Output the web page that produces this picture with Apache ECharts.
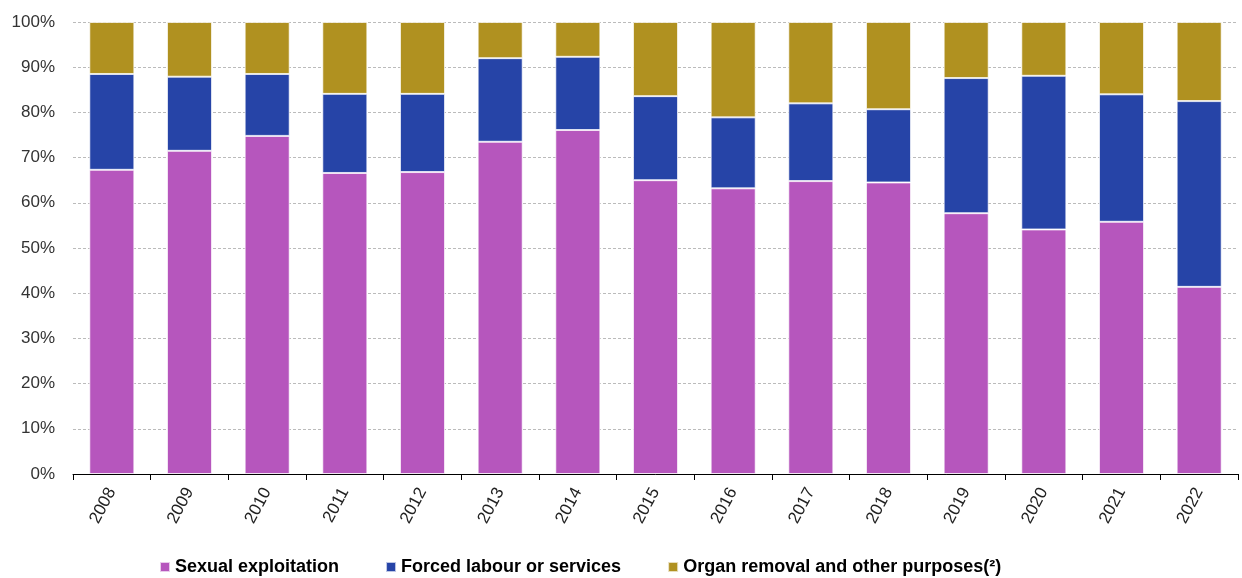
<!DOCTYPE html>
<html>
<head>
<meta charset="utf-8">
<script src="https://cdn.jsdelivr.net/npm/echarts@6/dist/echarts.min.js"></script>
<style>html,body{margin:0;padding:0;background:#fff}#c{width:1242px;height:578px}</style>
</head>
<body>
<div id="c"></div>
<script>
var years = ['2008','2009','2010','2011','2012','2013','2014','2015','2016','2017','2018','2019','2020','2021','2022'];
var sexualExploitation = [67.3, 71.5, 74.8, 66.6, 66.8, 73.5, 76.1, 65.0, 63.2, 64.8, 64.5, 57.7, 54.1, 55.8, 41.4];
var forcedLabour = [21.2, 16.4, 13.7, 17.5, 17.3, 18.5, 16.2, 18.6, 15.7, 17.2, 16.2, 29.9, 34.0, 28.2, 41.1];
var organRemoval = [11.5, 12.1, 11.5, 15.9, 15.9, 8.0, 7.7, 16.4, 21.1, 18.0, 19.3, 12.4, 11.9, 16.0, 17.5];
var seriesNames = ['Sexual exploitation', 'Forced labour or services', 'Organ removal and other purposes(²)'];
var colors = ['#B656BD', '#2644A7', '#B09120'];

var chart = echarts.init(document.getElementById('c'), null, {renderer: 'canvas'});
var font = 'Arial, "Liberation Sans", sans-serif';
function mk(name, data, i) {
  return {
    name: name, type: 'bar', stack: 's', data: data, barWidth: '58%',
    itemStyle: {color: colors[i], borderColor: 'rgba(255,255,255,0.7)', borderWidth: 1},
    animation: false
  };
}
chart.setOption({
  animation: false,
  color: colors,
  grid: {left: 73, right: 4, top: 22, bottom: 104, containLabel: false},
  legend: {
    left: 154, top: 553, itemWidth: 10, itemHeight: 10, itemGap: 46, icon: 'rect',
    textStyle: {fontFamily: font, fontSize: 18, fontWeight: 'bold', color: '#000'},
    data: seriesNames
  },
  xAxis: {
    type: 'category', data: years, boundaryGap: true,
    axisLine: {lineStyle: {color: '#000', width: 1}},
    axisTick: {show: true, length: 6, lineStyle: {color: '#000'}},
    axisLabel: {rotate: 62, fontFamily: font, fontSize: 17, color: '#222', margin: 15}
  },
  yAxis: {
    type: 'value', min: 0, max: 100, interval: 10,
    axisLine: {show: false}, axisTick: {show: false},
    axisLabel: {formatter: '{value}%', fontFamily: font, fontSize: 17, color: '#333', margin: 18},
    splitLine: {lineStyle: {color: '#bbbbbb', type: [3, 2], width: 1}}
  },
  series: [
    mk(seriesNames[0], sexualExploitation, 0),
    mk(seriesNames[1], forcedLabour, 1),
    mk(seriesNames[2], organRemoval, 2)
  ]
});
</script>
</body>
</html>
